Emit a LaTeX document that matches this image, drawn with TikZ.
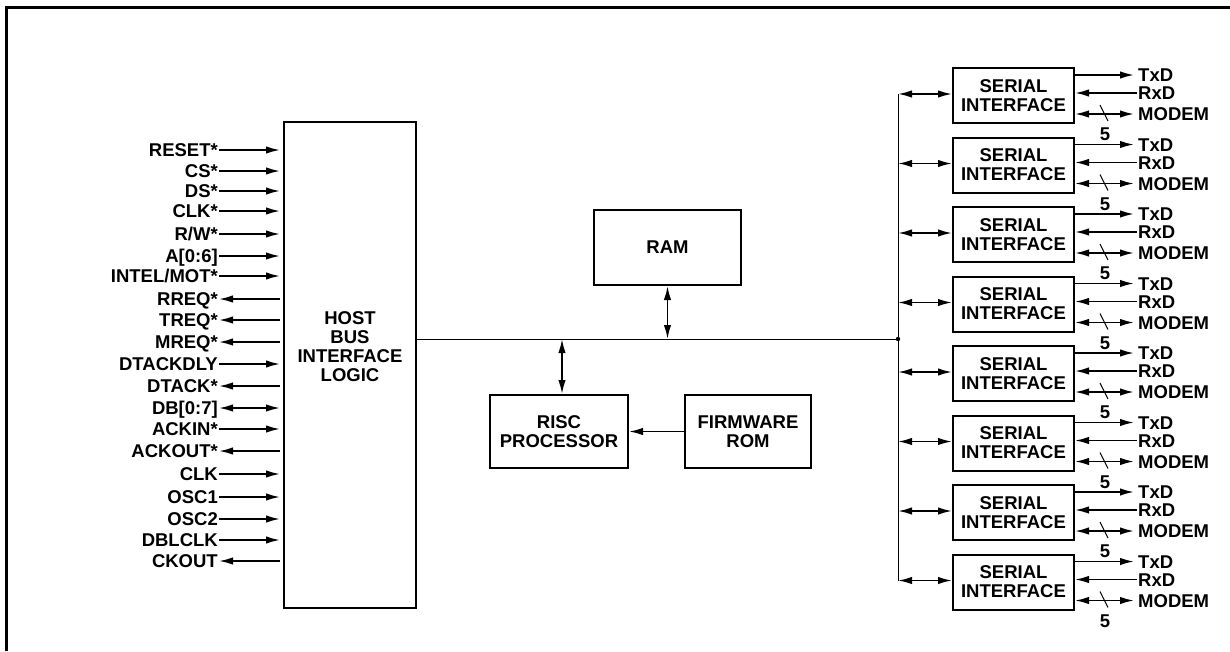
\documentclass[tikz,border=0pt]{standalone}
\usepackage{fontspec}
\setmainfont{Liberation Sans}
\usetikzlibrary{arrows.meta, positioning}

\tikzset{
  blk/.style={draw, line width=2pt, align=center, inner sep=0pt,
    font=\fontsize{18.5}{19}\selectfont\bfseries},
  lbl/.style={font=\fontsize{18.5}{19}\selectfont\bfseries,
    text height=13pt, text depth=0pt, inner ysep=0pt, inner xsep=1pt},
  sig/.style={line width=1.8pt},
  sigin/.style={sig, -{Latex[length=14pt,width=7.5pt]}},
  sigout/.style={sig, {Latex[length=14pt,width=7.5pt]}-},
  sigbi/.style={sig, {Latex[length=14pt,width=7.5pt]}-{Latex[length=14pt,width=7.5pt]}},
  gap/.style={shorten >=3pt},
  bus/.style={line width=1pt}
}

\begin{document}
\begin{tikzpicture}[x=1pt, y=-1pt]
  \useasboundingbox (0,0) rectangle (1230,651);
  % Frame (top and left edges only)
  \draw[line width=3pt] (6,651) -- (6,7) -- (1230,7);

  % Host bus interface block
  \node[blk, minimum width=132pt, minimum height=486pt] (host) at (350,365) {};
  \node[lbl, align=center, text height=, text depth=] (hostlbl) at (350,347)
    {HOST\\BUS\\INTERFACE\\LOGIC};

  % Host signals
  \foreach \y/\name/\dir [count=\i] in {
      150/{RESET*}/sigin, 171/{CS*}/sigin, 191/{DS*}/sigin, 211/{CLK*}/sigin,
      234/{R/W*}/sigin, 256/{A[0:6]}/sigin, 276/{INTEL/MOT*}/sigin,
      299/{RREQ*}/sigout, 320/{TREQ*}/sigout, 342/{MREQ*}/sigout,
      364/{DTACKDLY}/sigin, 386/{DTACK*}/sigout, 408/{DB[0:7]}/sigbi,
      429/{ACKIN*}/sigin, 451/{ACKOUT*}/sigout, 474/{CLK}/sigin,
      497/{OSC1}/sigin, 519/{OSC2}/sigin, 540/{DBLCLK}/sigin, 561/{CKOUT}/sigout}
  {
    \node[lbl, anchor=east] (s\i) at (219,\y) {\name};
    \draw[\dir, gap] (s\i.east) -- (host.west |- s\i.east);
  }

  % Internal blocks
  \node[blk, minimum width=147pt, minimum height=75pt] (ram) at (667.5,247.5) {RAM};
  \node[blk, minimum width=138pt, minimum height=73pt] (risc) at (559,431.5) {RISC\\PROCESSOR};
  \node[blk, minimum width=126pt, minimum height=73pt] (rom) at (748,431.5) {FIRMWARE\\ROM};

  % Internal bus
  \coordinate (jn) at (898,339);
  \coordinate (bustop) at (898,94);
  \coordinate (busbot) at (898,581);
  \draw[bus] (host.east |- jn) -- (jn);
  \draw[bus] (bustop) -- (busbot);
  \fill (jn) circle (2.2pt);
  \draw[sigbi] (ram.south) -- (ram.south |- jn);
  \draw[sigbi] ([xshift=3pt]risc.north) -- ([xshift=3pt]risc.north |- jn);
  \draw[sigin] (rom.west) -- (risc.east);

  % Serial interfaces
  \foreach \i in {1,...,8} {
    \pgfmathsetmacro\yt{68+69.5*(\i-1)}
    \node[blk, minimum width=121pt, minimum height=55pt] (si\i) at (1013.5,\yt+27.5)
      {SERIAL\\INTERFACE};
    \coordinate (tap\i) at (898,\yt+26);
    \draw[sigbi] (tap\i) -- (si\i.west |- tap\i);
    \node[lbl, anchor=west] (tx\i) at (1137,\yt+7) {TxD};
    \node[lbl, anchor=west] (rx\i) at (1137,\yt+25) {RxD};
    \node[lbl, anchor=west] (md\i) at (1137,\yt+46) {MODEM};
    \draw[sigin, gap] (si\i.east |- tx\i.west) -- (tx\i.west);
    \draw[sigin] (rx\i.west) -- (si\i.east |- rx\i.west);
    \draw[sigbi, gap] (si\i.east |- md\i.west) -- (md\i.west);
    \coordinate (cut\i) at (1104,\yt+46);
    \draw[line width=1pt] ([shift={(-4,-9)}]cut\i) -- ([shift={(4,7)}]cut\i);
    \node[lbl] (n\i) at (1105,\yt+66) {5};
  }
\end{tikzpicture}
\end{document}
